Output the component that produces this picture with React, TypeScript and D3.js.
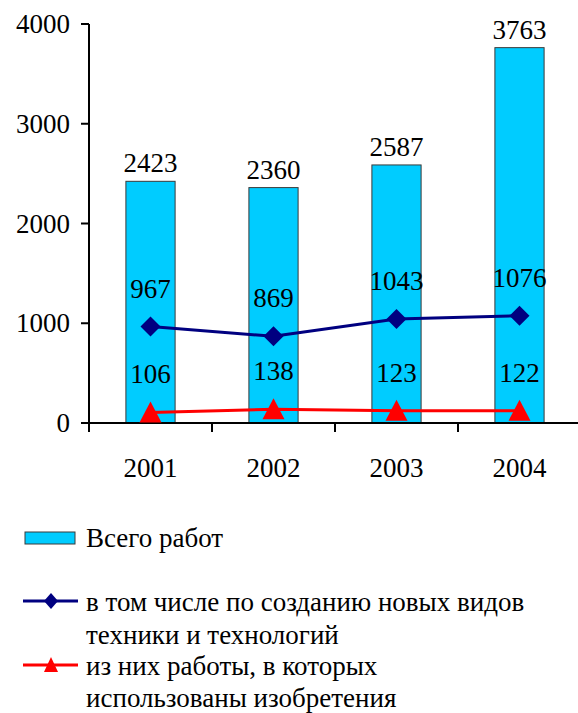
import * as d3 from 'd3';

const years = ['2001', '2002', '2003', '2004'];
const totalWorks = [2423, 2360, 2587, 3763];
const newTypes = [967, 869, 1043, 1076];
const withInventions = [106, 138, 123, 122];
const yTicks = [0, 1000, 2000, 3000, 4000];

const legendTotal = 'Всего работ';
const legendNew = ['в том числе по созданию новых видов', 'техники и технологий'];
const legendInv = ['из них работы, в которых', 'использованы изобретения'];

const W = 578;
const H = 713;
const SERIF = 'Times New Roman';

const NAVY = '#000080';
const RED = '#FF0000';
const CYAN = '#00CCFF';

export default function App() {
  const left = 89;
  const right = 581;
  const top = 24;
  const bottom = 423;

  const x = d3.scaleBand<string>().domain(years).range([left, right]);
  const y = d3.scaleLinear().domain([0, 4000]).range([bottom, top]);
  const bw = x.bandwidth() * 0.4;
  const cx = (d: string) => (x(d) as number) + x.bandwidth() / 2;

  const line = d3
    .line<number>()
    .x((d, i) => cx(years[i]))
    .y((d) => y(d));

  const diamond = 'M0,-10L10,0L0,10L-10,0Z';
  const triangle = 'M0,-11L11,10L-11,10Z';

  return (
    <svg width={W} height={H} style={{ position: 'absolute', left: 0, top: 0 }}>
      {totalWorks.map((v, i) => (
        <rect
          key={'b' + i}
          x={cx(years[i]) - bw / 2}
          y={y(v)}
          width={bw}
          height={y(0) - y(v)}
          fill={CYAN}
          stroke="#3a3a3a"
          strokeWidth={1}
        />
      ))}

      <line x1={left} x2={left} y1={top} y2={bottom + 9} stroke="#000" strokeWidth={2} />
      {yTicks.map((t) => (
        <line key={'ytl' + t} x1={left - 8} x2={left} y1={y(t)} y2={y(t)} stroke="#000" strokeWidth={2} />
      ))}
      {yTicks.map((t) => (
        <text key={'yt' + t} x={left - 19} y={y(t) + 9} textAnchor="end" fontFamily={SERIF} fontSize={27}>
          {String(t)}
        </text>
      ))}

      <line x1={left} x2={W} y1={bottom} y2={bottom} stroke="#000" strokeWidth={2} />
      {years.slice(1).map((yr) => (
        <line
          key={'xt' + yr}
          x1={x(yr)}
          x2={x(yr)}
          y1={bottom}
          y2={bottom + 9}
          stroke="#000"
          strokeWidth={2}
        />
      ))}
      {years.map((yr) => (
        <text key={'xl' + yr} x={cx(yr)} y={477} textAnchor="middle" fontFamily={SERIF} fontSize={27}>
          {yr}
        </text>
      ))}

      {totalWorks.map((v, i) => (
        <text key={'bl' + i} x={cx(years[i])} y={y(v) - 9} textAnchor="middle" fontFamily={SERIF} fontSize={27}>
          {String(v)}
        </text>
      ))}

      <path d={line(newTypes) as string} fill="none" stroke={NAVY} strokeWidth={3} />
      {newTypes.map((v, i) => (
        <path key={'d' + i} d={diamond} transform={`translate(${cx(years[i])},${y(v)})`} fill={NAVY} />
      ))}

      <path d={line(withInventions) as string} fill="none" stroke={RED} strokeWidth={3} />
      {withInventions.map((v, i) => (
        <path key={'t' + i} d={triangle} transform={`translate(${cx(years[i])},${y(v)})`} fill={RED} />
      ))}

      {newTypes.map((v, i) => (
        <text key={'nl' + i} x={cx(years[i])} y={y(v) - 29} textAnchor="middle" fontFamily={SERIF} fontSize={27}>
          {String(v)}
        </text>
      ))}
      {withInventions.map((v, i) => (
        <text key={'il' + i} x={cx(years[i])} y={y(v) - 29} textAnchor="middle" fontFamily={SERIF} fontSize={27}>
          {String(v)}
        </text>
      ))}

      <rect x={25} y={532} width={50} height={12} fill={CYAN} stroke="#3a3a3a" />
      <text x={86} y={547} fontFamily={SERIF} fontSize={27}>
        {legendTotal}
      </text>

      <line x1={23} x2={78} y1={601} y2={601} stroke={NAVY} strokeWidth={3} />
      <path d="M0,-8L7,0L0,8L-7,0Z" transform="translate(51,601)" fill={NAVY} />
      {legendNew.map((t, i) => (
        <text key={'ln' + i} x={86} y={611 + i * 33} fontFamily={SERIF} fontSize={27}>
          {t}
        </text>
      ))}

      <line x1={23} x2={78} y1={665} y2={665} stroke={RED} strokeWidth={3} />
      <path d="M0,-8L7,7L-7,7Z" transform="translate(51,665)" fill={RED} />
      {legendInv.map((t, i) => (
        <text key={'li' + i} x={86} y={675 + i * 32} fontFamily={SERIF} fontSize={27}>
          {t}
        </text>
      ))}
    </svg>
  );
}
